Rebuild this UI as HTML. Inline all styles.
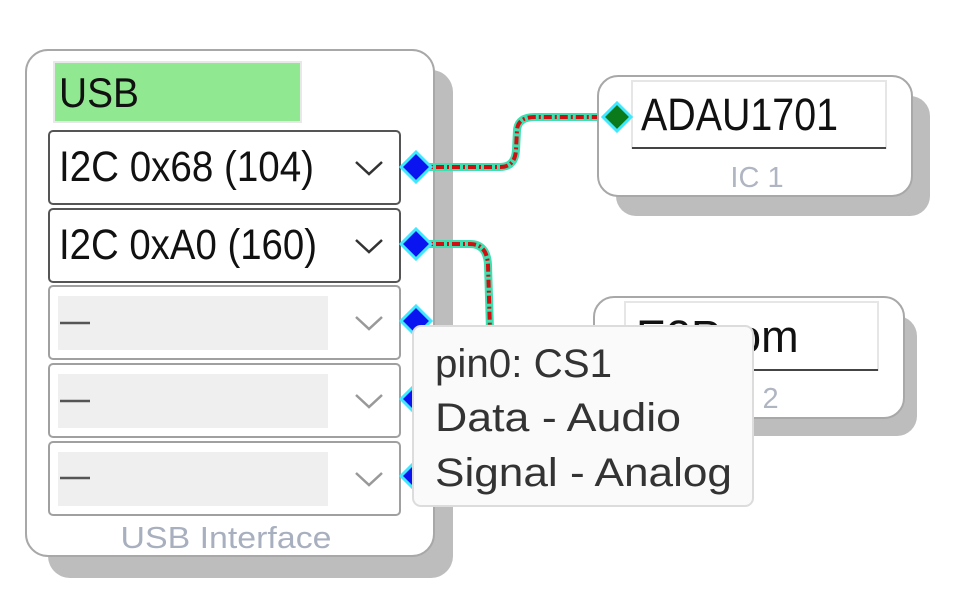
<!DOCTYPE html>
<html><head><style>
html,body{margin:0;padding:0;background:#fff;}
svg{display:block;}
</style></head><body>
<svg width="970" height="616" viewBox="0 0 970 616" xmlns="http://www.w3.org/2000/svg" font-family="Liberation Sans, sans-serif">
<!-- main box -->
<rect x="48" y="70" width="405" height="508" rx="22" fill="#bdbdbd"/>
<rect x="26" y="50" width="408" height="506" rx="22" fill="#fff" stroke="#a8a8a8" stroke-width="2"/>
<rect x="54" y="62" width="247" height="60" fill="#90e890" stroke="#e8e8e8" stroke-width="2"/>
<text x="59" y="107" font-size="42" fill="#111" textLength="80" lengthAdjust="spacingAndGlyphs">USB</text>
<!-- dropdowns -->
<g stroke-width="2">
<rect x="49" y="131" width="351" height="73" rx="4" fill="#fff" stroke="#555"/>
<rect x="49" y="209" width="351" height="73" rx="4" fill="#fff" stroke="#555"/>
<rect x="49" y="286" width="351" height="73" rx="4" fill="#fff" stroke="#a0a0a0"/>
<rect x="49" y="364" width="351" height="73" rx="4" fill="#fff" stroke="#a0a0a0"/>
<rect x="49" y="442" width="351" height="73" rx="4" fill="#fff" stroke="#a0a0a0"/>
</g>
<rect x="58" y="296" width="270" height="54" fill="#efefef"/>
<rect x="58" y="374" width="270" height="54" fill="#efefef"/>
<rect x="58" y="452" width="270" height="54" fill="#efefef"/>
<text x="59" y="181" font-size="43" fill="#111" textLength="255" lengthAdjust="spacingAndGlyphs">I2C 0x68 (104)</text>
<text x="59" y="259" font-size="43" fill="#111" textLength="258" lengthAdjust="spacingAndGlyphs">I2C 0xA0 (160)</text>
<g stroke="#555" stroke-width="2.5"><line x1="60" y1="323" x2="90" y2="323"/><line x1="60" y1="401" x2="90" y2="401"/><line x1="60" y1="478" x2="90" y2="478"/></g>
<g fill="none" stroke-width="2.5">
<polyline points="356,162 369,174 382,162" stroke="#333"/>
<polyline points="356,240 369,252 382,240" stroke="#333"/>
<polyline points="356,317 369,329 382,317" stroke="#999"/>
<polyline points="356,395 369,407 382,395" stroke="#999"/>
<polyline points="356,473 369,485 382,473" stroke="#999"/>
</g>
<text x="226" y="548" font-size="31" fill="#a8afbf" text-anchor="middle" textLength="211" lengthAdjust="spacingAndGlyphs">USB Interface</text>
<!-- connectors -->
<path d="M420,167 L500,167 Q515,167 516,150 L517,130 Q518,117 535,117 L612,117" fill="none" stroke="#3de0b0" stroke-width="8"/>
<path d="M420,167 L500,167 Q515,167 516,150 L517,130 Q518,117 535,117 L612,117" fill="none" stroke="#d01010" stroke-width="4" stroke-dasharray="8,3,2,3"/>
<path d="M420,244 L470,244 Q487,244 488,265 L490,330" fill="none" stroke="#3de0b0" stroke-width="8"/>
<path d="M420,244 L470,244 Q487,244 488,265 L490,330" fill="none" stroke="#d01010" stroke-width="4" stroke-dasharray="8,3,2,3"/>
<!-- ports -->
<g stroke="#40e8ff" stroke-width="3" fill="#0a14f0">
<polygon points="416,152 431,167 416,182 401,167"/>
<polygon points="416,229 431,244 416,259 401,244"/>
<polygon points="416,306 431,321 416,336 401,321"/>
<polygon points="416,384 431,399 416,414 401,399"/>
<polygon points="416,461 431,476 416,491 401,476"/>
</g>
<!-- IC1 -->
<rect x="616" y="96" width="314" height="120" rx="20" fill="#bdbdbd"/>
<rect x="598" y="76" width="314" height="120" rx="20" fill="#fff" stroke="#a8a8a8" stroke-width="2"/>
<rect x="632" y="81" width="254" height="67" fill="#fff" stroke="#e6e6e6" stroke-width="2"/>
<line x1="632" y1="148" x2="886" y2="148" stroke="#444" stroke-width="2"/>
<text x="641" y="130" font-size="45" fill="#111" textLength="197" lengthAdjust="spacingAndGlyphs">ADAU1701</text>
<text x="757" y="187" font-size="29" fill="#b0b5c2" text-anchor="middle">IC 1</text>
<polygon points="617,103 631,117 617,131 603,117" fill="#0a7a1a" stroke="#40e8ff" stroke-width="3"/>
<!-- IC2 -->
<rect x="610" y="316" width="307" height="120" rx="20" fill="#bdbdbd"/>
<rect x="594" y="297" width="310" height="121" rx="20" fill="#fff" stroke="#a8a8a8" stroke-width="2"/>
<rect x="625" y="302" width="253" height="68" fill="#fff" stroke="#e6e6e6" stroke-width="2"/>
<line x1="625" y1="370" x2="878" y2="370" stroke="#444" stroke-width="2"/>
<text x="636" y="352" font-size="45" fill="#111">E2Prom</text>
<text x="752" y="408" font-size="29" fill="#b0b5c2" text-anchor="middle">IC 2</text>
<!-- tooltip -->
<rect x="413" y="326" width="340" height="180" rx="8" fill="#fafafa" stroke="#dcdcdc" stroke-width="2"/>
<g font-size="40" fill="#333">
<text x="435" y="377" textLength="177" lengthAdjust="spacingAndGlyphs">pin0: CS1</text>
<text x="435" y="431" textLength="246" lengthAdjust="spacingAndGlyphs">Data - Audio</text>
<text x="435" y="486" textLength="297" lengthAdjust="spacingAndGlyphs">Signal - Analog</text>
</g>
</svg>
</body></html>
